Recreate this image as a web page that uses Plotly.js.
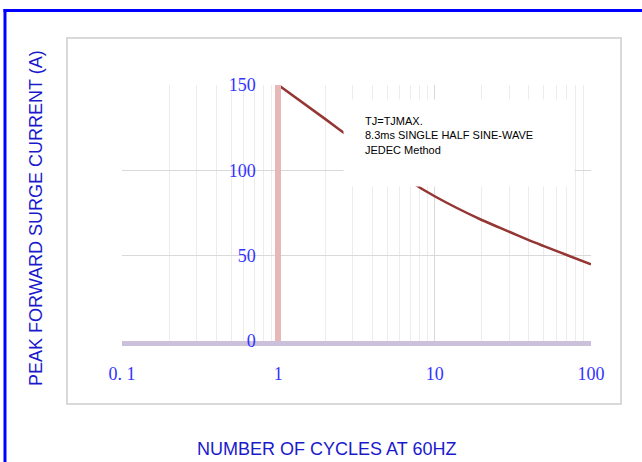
<!DOCTYPE html>
<html>
<head>
<meta charset="utf-8">
<script src="https://cdn.plot.ly/plotly-3.0.1.min.js"></script>
<style>html,body{margin:0;padding:0;background:#fff;}#chart{width:642px;height:462px;}</style>
</head>
<body>
<div id="chart"></div>
<script>
// Data
const cycles = [1, 2, 3, 5, 7, 10, 20, 30, 40, 50, 70, 100];
const surgeCurrent = [150, 130, 118, 103.5, 93.5, 84.8, 70.9, 64, 59.1, 55.6, 50.4, 44.9];
const xTickVals = [0.1, 1, 10, 100];
const xTickText = ['0. 1', '1', '10', '100'];
const yTickVals = [0, 50, 100, 150];
const yTickText = ['0', '50', '100', '150'];
const xTitle = 'NUMBER OF CYCLES AT 60HZ';
const yTitle = 'PEAK FORWARD SURGE CURRENT (A)';
const noteLines = ['TJ=TJMAX.', '8.3ms SINGLE HALF SINE-WAVE', 'JEDEC Method'];

const tickFont = {family: 'Liberation Serif, DejaVu Serif, serif', size: 18, color: '#3333ff'};
const titleFont = {family: 'Liberation Sans, Arial, sans-serif', size: 18, color: '#1a1acc'};

const trace = {
  x: cycles, y: surgeCurrent, type: 'scatter', mode: 'lines',
  line: {color: '#943634', width: 2.5, shape: 'spline', smoothing: 0.6},
  cliponaxis: false, hoverinfo: 'skip', showlegend: false
};

const layout = {
  width: 642, height: 462,
  margin: {l: 122, r: 51, t: 85, b: 121},
  paper_bgcolor: '#ffffff', plot_bgcolor: '#ffffff',
  showlegend: false,
  xaxis: {
    type: 'log', range: [-1, 2], domain: [0, 1],
    tickmode: 'array', tickvals: xTickVals, ticktext: xTickText,
    tickfont: tickFont, ticks: '', ticklabelstandoff: 12,
    showgrid: true, gridcolor: '#d9d9d9', gridwidth: 1,
    minor: {dtick: 'D1', showgrid: true, gridcolor: '#ececec', gridwidth: 1, ticks: ''},
    showline: true, linecolor: '#ccc1da', linewidth: 5,
    zeroline: false, fixedrange: true
  },
  yaxis: {
    range: [0, 150], anchor: 'free', position: (Math.log10(1) + 1) / 3,
    tickmode: 'array', tickvals: yTickVals, ticktext: yTickText,
    tickfont: tickFont, ticks: '', ticklabelstandoff: 16,
    showgrid: true, gridcolor: '#d9d9d9', gridwidth: 1,
    showline: true, linecolor: '#e6b9b8', linewidth: 6,
    zeroline: false, fixedrange: true
  },
  shapes: [
    {type: 'rect', xref: 'paper', yref: 'paper', x0: -0.1173, x1: 1.0640, y0: -0.2461, y1: 1.1836,
     line: {color: '#d9d9d9', width: 2}, fillcolor: 'rgba(0,0,0,0)', layer: 'below'},
    {type: 'line', xref: 'paper', yref: 'paper', x0: -0.2527, x1: 1.11, y0: 1.291, y1: 1.291,
     line: {color: '#0000ff', width: 3}},
    {type: 'line', xref: 'paper', yref: 'paper', x0: -0.2495, x1: -0.2495, y0: 1.297, y1: -0.48,
     line: {color: '#0000ff', width: 3}}
  ],
  annotations: [
    {xref: 'paper', yref: 'paper', x: 0.4712, y: 0.9453, xanchor: 'left', yanchor: 'top',
     text: ' ', showarrow: false, bgcolor: '#ffffff', width: 230, height: 86, borderpad: 0,
     font: {size: 2}},
    {xref: 'paper', yref: 'paper', x: 0.5139, y: 0.8906, xanchor: 'left', yanchor: 'top',
     align: 'left', showarrow: false, text: noteLines.join('<br>'),
     font: {family: 'Liberation Sans, Arial, sans-serif', size: 11, color: '#000000'}},
    {xref: 'paper', yref: 'paper', x: 0.4371, y: -0.4219, xanchor: 'center', yanchor: 'middle',
     showarrow: false, text: xTitle, font: titleFont},
    {xref: 'paper', yref: 'paper', x: -0.1834, y: 0.4805, xanchor: 'center', yanchor: 'middle',
     showarrow: false, text: yTitle, textangle: -90, font: titleFont}
  ]
};

Plotly.newPlot('chart', [trace], layout, {displayModeBar: false, staticPlot: true});
</script>
</body>
</html>
